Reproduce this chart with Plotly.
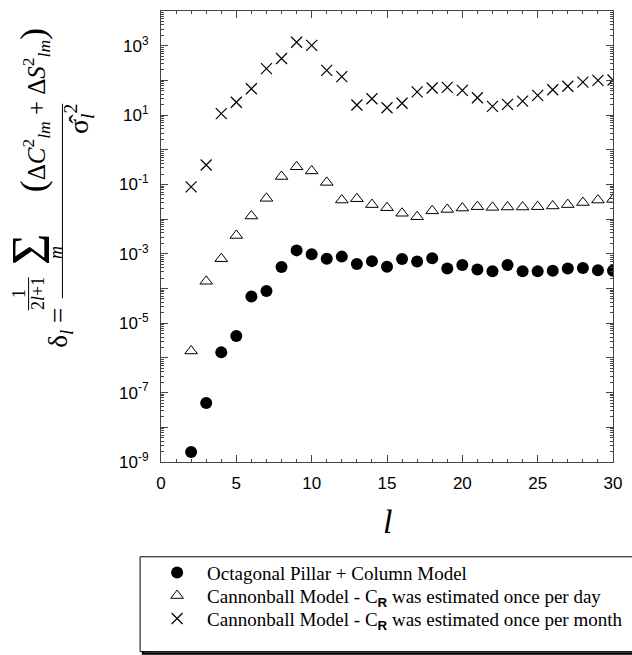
import plotly.graph_objects as go

# ---- data ----
degree = list(range(2, 31))
octagonal_log = [-8.71, -7.30, -5.84, -5.37, -4.23, -4.07, -3.38, -2.90, -3.01, -3.14,
                 -3.08, -3.29, -3.21, -3.37, -3.15, -3.22, -3.13, -3.42, -3.32, -3.45,
                 -3.50, -3.32, -3.50, -3.50, -3.49, -3.42, -3.41, -3.47, -3.49]
cannon_day_log = [-5.80, -3.79, -3.14, -2.47, -1.91, -1.40, -0.77, -0.49, -0.61, -0.94,
                  -1.45, -1.41, -1.58, -1.67, -1.83, -1.93, -1.76, -1.72, -1.68, -1.64,
                  -1.66, -1.65, -1.65, -1.64, -1.62, -1.58, -1.52, -1.45, -1.43]
cannon_month_log = [-1.07, -0.44, 1.04, 1.37, 1.76, 2.34, 2.63, 3.10, 3.01, 2.29,
                    2.11, 1.29, 1.47, 1.21, 1.34, 1.67, 1.78, 1.80, 1.71, 1.50,
                    1.25, 1.31, 1.40, 1.57, 1.73, 1.83, 1.95, 2.00, 2.01]
octagonal = [10 ** v for v in octagonal_log]
cannon_day = [10 ** v for v in cannon_day_log]
cannon_month = [10 ** v for v in cannon_month_log]

sub_r = "C<sub><span style='font-family:Liberation Sans, Arial, sans-serif'><b>R</b></span></sub>"
names = ["Octagonal Pillar + Column Model",
         "Cannonball Model - " + sub_r + " was estimated once per day",
         "Cannonball Model - " + sub_r + " was estimated once per month"]

x_ticks = [0, 5, 10, 15, 20, 25, 30]
y_exponents = list(range(-9, 5))
y_tickvals = [10.0 ** e for e in y_exponents]
y_ticktext = [("10<sup>%d</sup>" % e) if e % 2 else "" for e in y_exponents]
y_minor = [m * 10.0 ** e for e in range(-9, 4) for m in range(2, 10)]

W, H = 632, 655
ML, MR, MT, MB = 161, 17, 10, 193
PW, PH = W - ML - MR, H - MT - MB


def px(x):
    return (x - ML) / PW


def py(y):
    return (H - MB - y) / PH


serif = "Liberation Serif, Times New Roman, Times, DejaVu Serif, serif"
sans = "Liberation Sans, Arial, Helvetica, sans-serif"

fig = go.Figure()
fig.add_trace(go.Scatter(x=degree, y=octagonal, mode="markers", name=names[0], legend="legend",
                         marker=dict(symbol="circle", size=12, color="black")))
fig.add_trace(go.Scatter(x=degree, y=cannon_day, mode="markers", name=names[1], legend="legend2",
                         marker=dict(symbol="triangle-up-open", size=11, color="black",
                                     line=dict(width=1, color="black"))))
fig.add_trace(go.Scatter(x=degree, y=cannon_month, mode="markers", name=names[2], legend="legend3",
                         marker=dict(symbol="x-thin-open", size=11, color="black",
                                     line=dict(width=1.2, color="black"))))


def leg(yc):
    return dict(x=px(139), y=py(yc), xanchor="left", yanchor="middle",
                font=dict(family=serif, size=19, color="black"),
                bgcolor="rgba(0,0,0,0)", borderwidth=0, indentation=8,
                itemwidth=50)


fig.update_layout(
    width=W, height=H,
    margin=dict(l=ML, r=MR, t=MT, b=MB),
    paper_bgcolor="white", plot_bgcolor="white",
    showlegend=True,
    legend=leg(573), legend2=leg(596), legend3=leg(619),
    xaxis=dict(range=[0, 30], tickvals=x_ticks, ticks="inside", ticklen=7,
               showline=True, mirror="allticks", linecolor="#444", linewidth=1,
               tickcolor="#444", showgrid=False, zeroline=False,
               tickfont=dict(family=sans, size=17, color="black"),
               ticklabelstandoff=6,
               minor=dict(dtick=1, ticks="inside", ticklen=3, tickcolor="#444", showgrid=False)),
    yaxis=dict(type="log", range=[-9, 4], tickvals=y_tickvals, ticktext=y_ticktext,
               ticks="inside", ticklen=7, showline=True, mirror="allticks",
               linecolor="#444", linewidth=1, tickcolor="#444", showgrid=False,
               zeroline=False, tickfont=dict(family=sans, size=17, color="black"),
               ticklabelstandoff=8,
               minor=dict(tickvals=y_minor, ticks="inside", ticklen=3, tickcolor="#444",
                          showgrid=False)),
)

# legend frame with shadow
fig.add_shape(type="rect", xref="paper", yref="paper", x0=px(143), x1=px(640),
              y0=py(654), y1=py(559), line=dict(color="black", width=2.5),
              fillcolor="rgba(0,0,0,0)", layer="above")
fig.add_shape(type="rect", xref="paper", yref="paper", x0=px(140), x1=px(638),
              y0=py(652), y1=py(557), line=dict(color="black", width=1),
              fillcolor="white", layer="above")


# y-axis formula (rotated)
def ann(x, y, text, size, angle=-90):
    fig.add_annotation(x=px(x), y=py(y), xref="paper", yref="paper", text=text,
                       showarrow=False, textangle=angle, xanchor="center",
                       yanchor="middle", font=dict(family=serif, size=size, color="black"))


ann(60, 327, "δ<sub><i>l</i></sub> =", 27)
ann(19, 293, "1", 18)
ann(38, 293, "2<i>l</i>+1", 18)
ann(31, 249, "Σ", 54)
ann(56, 252, "<i>m</i>", 18)
ann(33, 110, "<span style='font-size:36px'>(</span>Δ<i>C</i><sup>2</sup><sub><i>lm</i></sub> + "
             "Δ<i>S</i><sup>2</sup><sub><i>lm</i></sub><span style='font-size:36px'>)</span>", 25)
ann(79, 118, "σ\u0302<sub><i>l</i></sub><sup>2</sup>", 28)
fig.add_shape(type="line", xref="paper", yref="paper", x0=px(28), x1=px(28),
              y0=py(277), y1=py(310), line=dict(color="black", width=1))
fig.add_shape(type="line", xref="paper", yref="paper", x0=px(62), x1=px(62),
              y0=py(103), y1=py(298), line=dict(color="black", width=1))

# x-axis label
fig.add_annotation(x=px(388), y=py(522), xref="paper", yref="paper", text="<i>l</i>",
                   showarrow=False, xanchor="center", yanchor="middle",
                   font=dict(family=serif, size=34, color="black"))

fig.write_html("out.html")
